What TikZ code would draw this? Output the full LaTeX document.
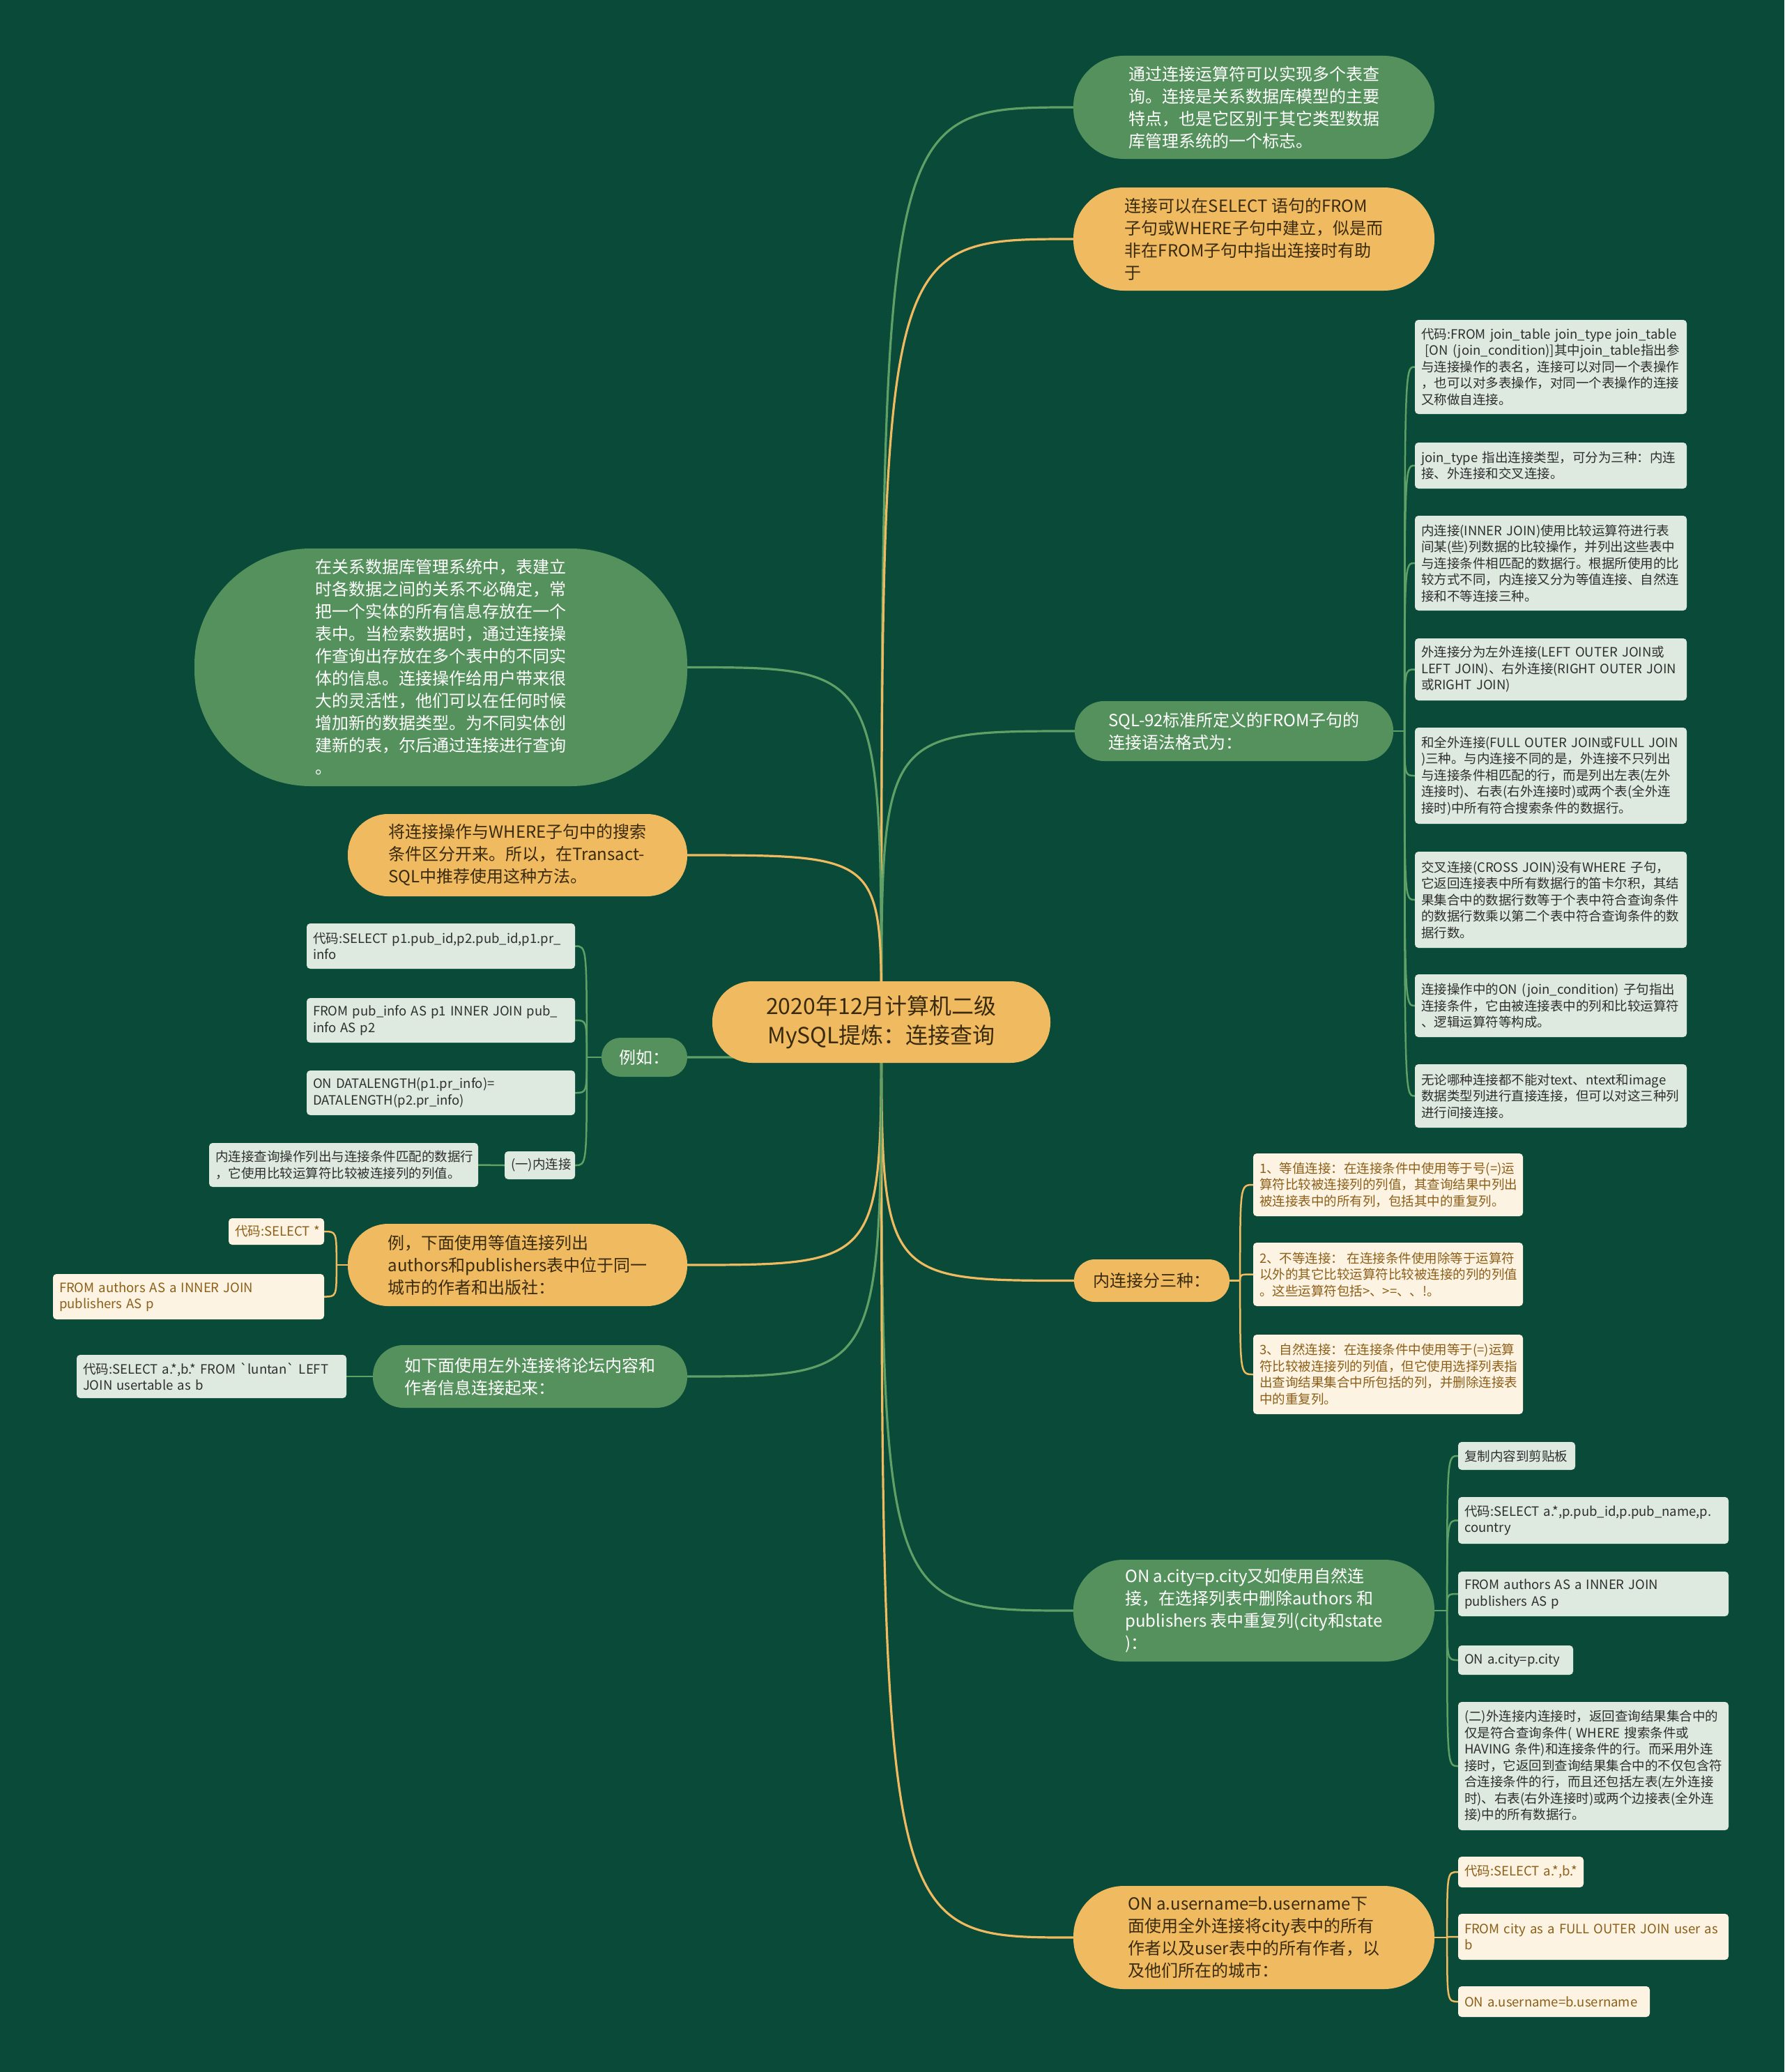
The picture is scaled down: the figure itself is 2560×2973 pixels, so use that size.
\documentclass[tikz,border=0pt]{standalone}
\usepackage{fontspec}
\setmainfont{Noto Sans CJK SC}
\definecolor{bgc}{HTML}{0A4A38}
\definecolor{gfill}{HTML}{55915C}
\definecolor{ofill}{HTML}{F0BB60}
\definecolor{otext}{HTML}{3A2A0E}
\definecolor{lfill}{HTML}{DEEAE0}
\definecolor{ltext}{HTML}{2E2E2E}
\definecolor{cfill}{HTML}{FDF3E2}
\definecolor{ctext}{HTML}{8C5F19}
\definecolor{gline}{HTML}{5FA066}
\definecolor{oline}{HTML}{F0BB60}
\pgfdeclarelayer{back}
\pgfdeclarelayer{edges}
\pgfsetlayers{back,edges,main}
\tikzset{
  big/.style={inner sep=0pt, align=left, font=\fontsize{24}{32}\selectfont},
  gnode/.style={big, fill=gfill, text=white},
  onode/.style={big, fill=ofill, text=otext},
  pill/.style 2 args={minimum width=#1pt, minimum height=#2pt, rounded corners=#2*0.49pt},
  lbox/.style={fill=lfill, text=ltext, rounded corners=5pt, inner sep=0pt, align=left, font=\fontsize{18.5}{23.5}\selectfont},
  cbox/.style={lbox, fill=cfill, text=ctext},
  boxsz/.code 2 args={\pgfmathsetmacro\tmpw{#1-18}\tikzset{minimum width=#1pt, minimum height=#2pt, text width=\tmpw pt}},
  gmain/.style={draw=gline, line width=3.2pt},
  omain/.style={draw=oline, line width=3.2pt},
  gsub/.style={draw=gline, line width=2.5pt},
  osub/.style={draw=oline, line width=2.5pt}
}
\begin{document}
\begin{tikzpicture}[x=1pt,y=-1pt]
\begin{pgfonlayer}{back}
\fill[bgc] (0,0) rectangle (2560,2973);
\end{pgfonlayer}
\useasboundingbox (0,0) rectangle (2560,2973);

% center
\node[onode, align=center, pill={485}{117}, font=\fontsize{32}{42}\selectfont] (ctr) at (1264.5,1466.5) {2020年12月计算机二级\\MySQL提炼：连接查询};

% right main nodes
\node[gnode, pill={518}{148}] (t1) at (1799,154) {通过连接运算符可以实现多个表查\\询。连接是关系数据库模型的主要\\特点，也是它区别于其它类型数据\\库管理系统的一个标志。};
\node[onode, pill={518}{148}] (t2) at (1799,343) {连接可以在SELECT 语句的FROM\\子句或WHERE子句中建立，似是而\\非在FROM子句中指出连接时有助\\于};
\node[gnode, pill={457}{86}] (sql) at (1770.5,1049) {SQL-92标准所定义的FROM子句的\\连接语法格式为：};
\node[onode, pill={223}{61}] (inner) at (1652.5,1837.5) {内连接分三种：};
\node[gnode, pill={518}{146}] (oncity) at (1799,2311) {ON a.city=p.city又如使用自然连\\接，在选择列表中删除authors 和\\publishers 表中重复列(city和state\\)：};
\node[onode, pill={518}{148}] (onuser) at (1799,2780) {ON a.username=b.username下\\面使用全外连接将city表中的所有\\作者以及user表中的所有作者，以\\及他们所在的城市：};

% left main nodes
\node[gnode, pill={707}{341}] (l1) at (632.5,957.5) {在关系数据库管理系统中，表建立\\时各数据之间的关系不必确定，常\\把一个实体的所有信息存放在一个\\表中。当检索数据时，通过连接操\\作查询出存放在多个表中的不同实\\体的信息。连接操作给用户带来很\\大的灵活性，他们可以在任何时候\\增加新的数据类型。为不同实体创\\建新的表，尔后通过连接进行查询\\。};
\node[onode, pill={487}{118}] (l2) at (742.5,1227) {将连接操作与WHERE子句中的搜索\\条件区分开来。所以，在Transact-\\SQL中推荐使用这种方法。};
\node[gnode, pill={123}{56}] (eg) at (924.5,1517) {例如：};
\node[onode, pill={487}{118}] (l3) at (742.5,1815) {例，下面使用等值连接列出\\authors和publishers表中位于同一\\城市的作者和出版社：};
\node[gnode, pill={451}{90}] (l4) at (760.5,1975) {如下面使用左外连接将论坛内容和\\作者信息连接起来：};

% SQL-92 children
\node[lbox, boxsz={390}{135}] (b1) at (2225,526.5) {代码:FROM join\_table join\_type join\_table\\\hspace*{0.3em}[ON (join\_condition)]其中join\_table指出参\\与连接操作的表名，连接可以对同一个表操作\\，也可以对多表操作，对同一个表操作的连接\\又称做自连接。};
\node[lbox, boxsz={390}{66}] (b2) at (2225,668) {join\_type 指出连接类型，可分为三种：内连\\接、外连接和交叉连接。};
\node[lbox, boxsz={390}{136}] (b3) at (2225,808) {内连接(INNER JOIN)使用比较运算符进行表\\间某(些)列数据的比较操作，并列出这些表中\\与连接条件相匹配的数据行。根据所使用的比\\较方式不同，内连接又分为等值连接、自然连\\接和不等连接三种。};
\node[lbox, boxsz={390}{89}] (b4) at (2225,960.5) {外连接分为左外连接(LEFT OUTER JOIN或\\LEFT JOIN)、右外连接(RIGHT OUTER JOIN\\或RIGHT JOIN)};
\node[lbox, boxsz={390}{138}] (b5) at (2225,1113) {和全外连接(FULL OUTER JOIN或FULL JOIN\\)三种。与内连接不同的是，外连接不只列出\\与连接条件相匹配的行，而是列出左表(左外\\连接时)、右表(右外连接时)或两个表(全外连\\接时)中所有符合搜索条件的数据行。};
\node[lbox, boxsz={390}{138}] (b6) at (2225,1291) {交叉连接(CROSS JOIN)没有WHERE 子句，\\它返回连接表中所有数据行的笛卡尔积，其结\\果集合中的数据行数等于个表中符合查询条件\\的数据行数乘以第二个表中符合查询条件的数\\据行数。};
\node[lbox, boxsz={390}{90}] (b7) at (2225,1443) {连接操作中的ON (join\_condition) 子句指出\\连接条件，它由被连接表中的列和比较运算符\\、逻辑运算符等构成。};
\node[lbox, boxsz={390}{91}] (b8) at (2225,1572.5) {无论哪种连接都不能对text、ntext和image\\数据类型列进行直接连接，但可以对这三种列\\进行间接连接。};

% inner join children
\node[cbox, boxsz={387}{90}] (c1) at (1991.5,1700) {1、等值连接：在连接条件中使用等于号(=)运\\算符比较被连接列的列值，其查询结果中列出\\被连接表中的所有列，包括其中的重复列。};
\node[cbox, boxsz={387}{91}] (c2) at (1991.5,1828.5) {2、不等连接：\hspace{0.25em}在连接条件使用除等于运算符\\以外的其它比较运算符比较被连接的列的列值\\。这些运算符包括>、>=、、!。};
\node[cbox, boxsz={387}{114}] (c3) at (1991.5,1972) {3、自然连接：在连接条件中使用等于(=)运算\\符比较被连接列的列值，但它使用选择列表指\\出查询结果集合中所包括的列，并删除连接表\\中的重复列。};

% ON city children
\node[lbox, boxsz={168}{40}] (d1) at (2176,2089) {复制内容到剪贴板};
\node[lbox, boxsz={388}{67}] (d2) at (2286,2181.5) {代码:SELECT a.*,p.pub\_id,p.pub\_name,p.\\country};
\node[lbox, boxsz={388}{64}] (d3) at (2286,2287) {FROM authors AS a INNER JOIN\\publishers AS p};
\node[lbox, boxsz={165}{42}] (d4) at (2174.5,2382) {ON a.city=p.city};
\node[lbox, boxsz={388}{184}] (d5) at (2286,2534) {(二)外连接内连接时，返回查询结果集合中的\\仅是符合查询条件( WHERE 搜索条件或\\HAVING 条件)和连接条件的行。而采用外连\\接时，它返回到查询结果集合中的不仅包含符\\合连接条件的行，而且还包括左表(左外连接\\时)、右表(右外连接时)或两个边接表(全外连\\接)中的所有数据行。};

% ON username children
\node[cbox, boxsz={180}{44}] (e1) at (2182,2686) {代码:SELECT~a.*,b.*};
\node[cbox, boxsz={388}{66}] (e2) at (2286,2779) {FROM city as a FULL OUTER JOIN user as\\b};
\node[cbox, boxsz={275}{44}] (e3) at (2229.5,2872) {ON a.username=b.username};

% example children
\node[lbox, boxsz={385}{65}] (f1) at (632.5,1357.5) {代码:SELECT p1.pub\_id,p2.pub\_id,p1.pr\_\\info};
\node[lbox, boxsz={385}{64}] (f2) at (632.5,1464) {FROM pub\_info AS p1 INNER JOIN pub\_\\info AS p2};
\node[lbox, boxsz={385}{64}] (f3) at (632.5,1568) {ON DATALENGTH(p1.pr\_info)=\\DATALENGTH(p2.pr\_info)};
\node[lbox, boxsz={101}{40}] (f4) at (774.5,1672) {(一)内连接};
\node[lbox, boxsz={386}{63}] (g1) at (493,1671.5) {内连接查询操作列出与连接条件匹配的数据行\\，它使用比较运算符比较被连接列的列值。};

% L3 children
\node[cbox, boxsz={137}{38}] (h1) at (396.5,1767) {代码:SELECT~*};
\node[cbox, boxsz={389}{65}] (h2) at (270.5,1860.5) {FROM authors AS a INNER JOIN\\publishers AS p};

% L4 child
\node[lbox, boxsz={387}{62}] (i1) at (303.5,1975) {代码:SELECT a.*,b.* FROM \textasciigrave luntan\textasciigrave{} LEFT\\JOIN usertable as b};

% trunk coordinates
\coordinate (sqlT) at ([xshift=16pt]sql.east);
\coordinate (inT) at ([xshift=15pt]inner.east);
\coordinate (ocT) at ([xshift=18pt]oncity.east);
\coordinate (ouT) at ([xshift=18pt]onuser.east);
\coordinate (egT) at ([xshift=-21pt]eg.west);
\coordinate (l3T) at ([xshift=-16pt]l3.west);

\begin{pgfonlayer}{edges}
% main connectors
\draw[gmain] (ctr.center) .. controls (ctr.center |- t1.west) .. (t1.west);
\draw[omain] (ctr.center) .. controls (ctr.center |- t2.west) .. (t2.west);
\draw[gmain] (ctr.center) .. controls (ctr.center |- sql.west) .. (sql.west);
\draw[omain] (ctr.center) .. controls (ctr.center |- inner.west) .. (inner.west);
\draw[gmain] (ctr.center) .. controls (ctr.center |- oncity.west) .. (oncity.west);
\draw[omain] (ctr.center) .. controls (ctr.center |- onuser.west) .. (onuser.west);
\draw[gmain] (ctr.center) .. controls (ctr.center |- l1.east) .. (l1.east);
\draw[omain] (ctr.center) .. controls (ctr.center |- l2.east) .. (l2.east);
\draw[gmain] (ctr.center) .. controls (ctr.center |- eg.east) .. (eg.east);
\draw[omain] (ctr.center) .. controls (ctr.center |- l3.east) .. (l3.east);
\draw[gmain] (ctr.center) .. controls (ctr.center |- l4.east) .. (l4.east);
% sub connectors
\draw[gsub] (sql.east) -- (sqlT);
\foreach \c in {b1,b2,b3,b4,b5,b6,b7,b8}
  \draw[gsub] (sqlT) .. controls (sqlT |- \c.west) and (sqlT |- \c.west) .. (\c.west);
\draw[osub] (inner.east) -- (inT);
\foreach \c in {c1,c2,c3}
  \draw[osub] (inT) .. controls (inT |- \c.west) and (inT |- \c.west) .. (\c.west);
\draw[gsub] (oncity.east) -- (ocT);
\foreach \c in {d1,d2,d3,d4,d5}
  \draw[gsub] (ocT) .. controls (ocT |- \c.west) and (ocT |- \c.west) .. (\c.west);
\draw[osub] (onuser.east) -- (ouT);
\foreach \c in {e1,e2,e3}
  \draw[osub] (ouT) .. controls (ouT |- \c.west) and (ouT |- \c.west) .. (\c.west);
\draw[gsub] (eg.west) -- (egT);
\foreach \c in {f1,f2,f3,f4}
  \draw[gsub] (egT) .. controls (egT |- \c.east) and (egT |- \c.east) .. (\c.east);
\draw[gsub] (f4.west) -- (g1.east);
\draw[osub] (l3.west) -- (l3T);
\foreach \c in {h1,h2}
  \draw[osub] (l3T) .. controls (l3T |- \c.east) and (l3T |- \c.east) .. (\c.east);
\draw[gsub] (l4.west) -- (i1.east);
\end{pgfonlayer}
\end{tikzpicture}
\end{document}
